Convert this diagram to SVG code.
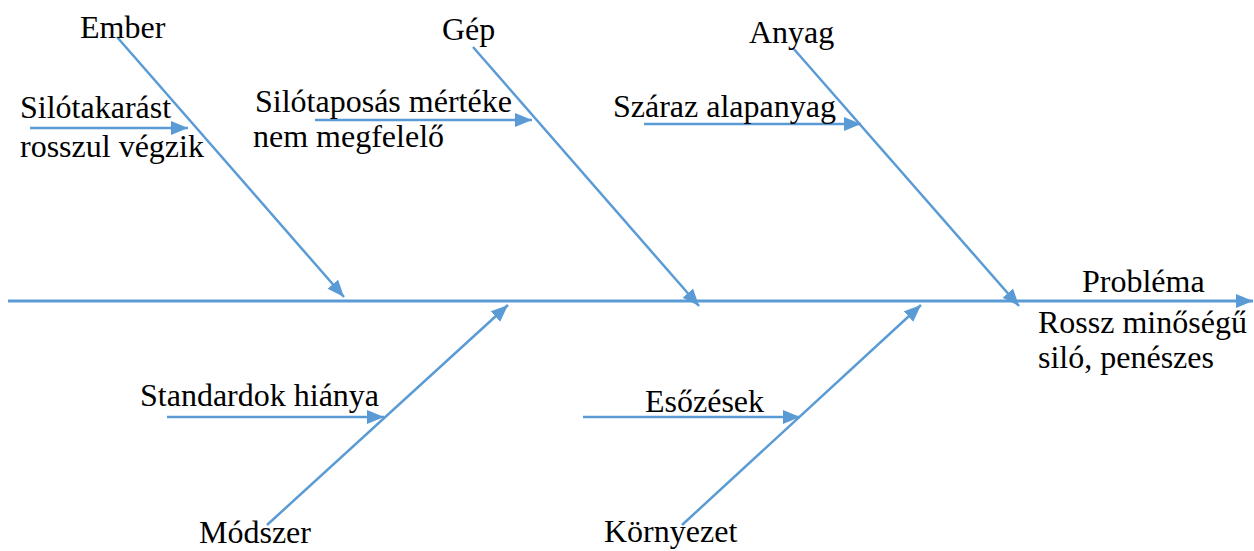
<svg xmlns="http://www.w3.org/2000/svg" width="1254" height="551" viewBox="0 0 1254 551">
  <defs>
    <marker id="head" markerUnits="userSpaceOnUse" markerWidth="18" markerHeight="16" refX="17" refY="7" orient="auto">
      <path d="M0,0 L17,7 L0,14 Z" fill="#5B9BD5"/>
    </marker>
    <style>
      .bone { stroke: #5B9BD5; stroke-width: 2.5; fill: none; marker-end: url(#head); }
      .spine { stroke: #5B9BD5; stroke-width: 3; fill: none; marker-end: url(#head); }
    </style>
  </defs>

  <!-- connectors: spine, category bones and cause arrows -->
  <g id="connectors">
    <line class="spine" x1="8" y1="301" x2="1253" y2="301"/>
    <line class="bone" x1="117" y1="37" x2="344" y2="297"/>
    <line class="bone" x1="473" y1="47" x2="699" y2="306"/>
    <line class="bone" x1="793" y1="48" x2="1019" y2="306"/>
    <line class="bone" x1="267" y1="525" x2="508" y2="305"/>
    <line class="bone" x1="682" y1="525" x2="921" y2="305"/>
    <line class="bone" x1="30" y1="128" x2="188" y2="128"/>
    <line class="bone" x1="315" y1="120" x2="532" y2="120"/>
    <line class="bone" x1="644" y1="124" x2="861" y2="124"/>
    <line class="bone" x1="167" y1="417" x2="384" y2="417"/>
    <line class="bone" x1="583" y1="417" x2="800" y2="417"/>
  </g>

  <g id="labels" font-family="Liberation Serif, serif" font-size="32" fill="#000">
    <g id="ember"><text x="80" y="38">Ember</text></g>
    <g id="gep"><text x="442" y="40">Gép</text></g>
    <g id="anyag"><text x="749" y="43">Anyag</text></g>

    <g id="silotakarast">
      <text x="20" y="118">Silótakarást</text>
      <text x="20" y="157">rosszul végzik</text>
    </g>
    <g id="silotaposas">
      <text x="255" y="112">Silótaposás mértéke</text>
      <text x="253" y="147">nem megfelelő</text>
    </g>
    <g id="szaraz"><text x="613" y="117">Száraz alapanyag</text></g>

    <g id="problema">
      <text x="1082" y="292">Probléma</text>
      <text x="1038" y="333">Rossz minőségű</text>
      <text x="1038" y="368">siló, penészes</text>
    </g>

    <g id="standardok"><text x="140" y="406">Standardok hiánya</text></g>
    <g id="modszer"><text x="199" y="543">Módszer</text></g>
    <g id="esozesek"><text x="645" y="412">Esőzések</text></g>
    <g id="kornyezet"><text x="604" y="542">Környezet</text></g>
  </g>
</svg>
